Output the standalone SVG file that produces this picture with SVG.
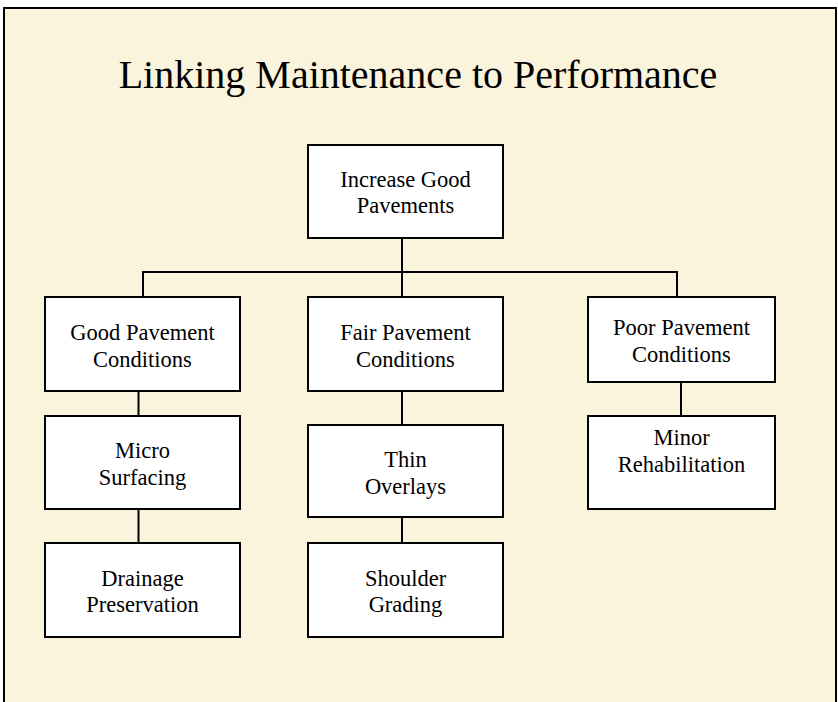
<svg xmlns="http://www.w3.org/2000/svg" width="838" height="702" viewBox="0 0 838 702">
<style>
.box{fill:#fff;stroke:#000;stroke-width:2}
.t{font-family:"Liberation Serif","Times New Roman",serif;font-size:22.5px;fill:#000;text-anchor:middle}
.title{font-family:"Liberation Serif","Times New Roman",serif;font-size:40px;fill:#000;text-anchor:middle}
.c{stroke:#000;stroke-width:2;fill:none}
</style>
<rect x="0" y="0" width="838" height="702" fill="#fff"/>
<rect x="4" y="8" width="832" height="720" fill="#FBF4DC" stroke="#000" stroke-width="2"/>
<text class="title" x="418" y="88">Linking Maintenance to Performance</text>
<g id="connectors">
<path class="c" d="M402,238 V297 M143,297 V272 H677 V297 M138.5,391 V416 M138.5,509 V543 M402,391 V425 M402,517 V543 M681,382 V416"/>
</g>
<g id="n-increase"><rect class="box" x="308" y="145" width="195" height="93"/><text class="t" x="405.5" y="187">Increase Good</text><text class="t" x="405.5" y="213">Pavements</text></g>
<g id="n-good"><rect class="box" x="45" y="297" width="195" height="94"/><text class="t" x="142.5" y="340">Good Pavement</text><text class="t" x="142.5" y="367">Conditions</text></g>
<g id="n-fair"><rect class="box" x="308" y="297" width="195" height="94"/><text class="t" x="405.5" y="340">Fair Pavement</text><text class="t" x="405.5" y="367">Conditions</text></g>
<g id="n-poor"><rect class="box" x="588" y="297" width="187" height="85"/><text class="t" x="681.5" y="335">Poor Pavement</text><text class="t" x="681.5" y="362">Conditions</text></g>
<g id="n-micro"><rect class="box" x="45" y="416" width="195" height="93"/><text class="t" x="142.5" y="458">Micro</text><text class="t" x="142.5" y="485">Surfacing</text></g>
<g id="n-drainage"><rect class="box" x="45" y="543" width="195" height="94"/><text class="t" x="142.5" y="586">Drainage</text><text class="t" x="142.5" y="612">Preservation</text></g>
<g id="n-thin"><rect class="box" x="308" y="425" width="195" height="92"/><text class="t" x="405.5" y="467">Thin</text><text class="t" x="405.5" y="494">Overlays</text></g>
<g id="n-shoulder"><rect class="box" x="308" y="543" width="195" height="94"/><text class="t" x="405.5" y="586">Shoulder</text><text class="t" x="405.5" y="612">Grading</text></g>
<g id="n-minor"><rect class="box" x="588" y="416" width="187" height="93"/><text class="t" x="681.5" y="445">Minor</text><text class="t" x="681.5" y="472">Rehabilitation</text></g>
</svg>
